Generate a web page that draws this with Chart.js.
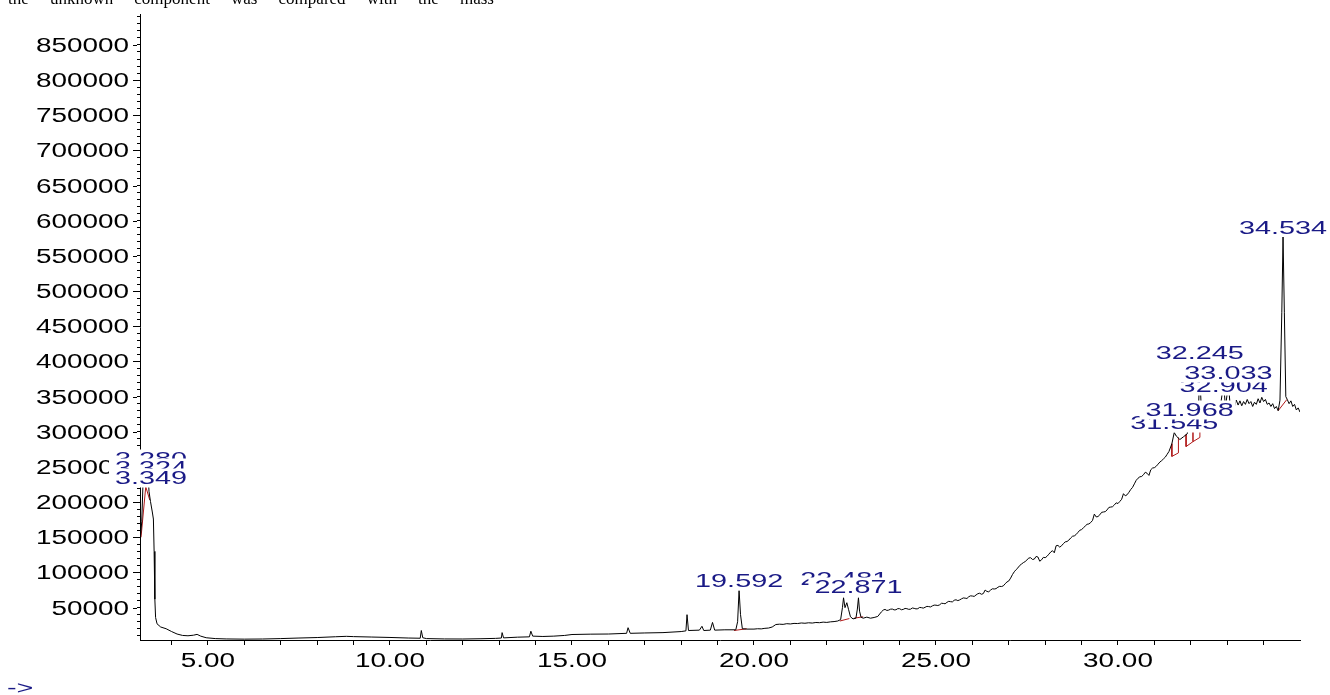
<!DOCTYPE html>
<html><head><meta charset="utf-8">
<script src="https://cdn.jsdelivr.net/npm/chart.js@4.4.1/dist/chart.umd.min.js"></script>
<style>
html,body{margin:0;padding:0;background:#fff;}
#wrap{position:relative;width:1330px;height:695px;overflow:hidden;background:#fff;}
#intro{position:absolute;left:8px;top:-10px;width:486px;font-family:"Liberation Serif","Times New Roman",serif;font-size:17px;line-height:17px;text-align:justify;text-align-last:justify;color:#000;}
canvas{position:absolute;left:0;top:0;}
</style></head>
<body>
<div id="wrap">
<canvas id="c" width="1330" height="695"></canvas>
<div id="intro">the unknown component was compared with the mass</div>
</div>
<script>
// ---- data ----
const retentionTimes = [
 3.14,3.18,3.22,3.26,3.28,3.30,3.324,3.335,3.349,3.38,
 3.42,3.47,3.50,3.52,3.54,3.56,3.60,3.70,3.85,4.00,
 4.15,4.30,4.45,4.60,4.70,4.80,4.95,5.20,5.50,6.00,
 6.50,7.00,7.50,8.00,8.50,8.80,9.00,9.50,10.00,10.50,
 10.83,10.86,10.90,11.00,11.50,12.00,12.50,12.90,13.06,13.08,
 13.12,13.50,13.83,13.87,13.92,14.20,14.50,14.80,15.00,15.50,
 16.00,16.50,16.54,16.60,17.00,17.50,18.00,18.13,18.16,18.20,
 18.50,18.57,18.62,18.80,18.86,18.92,19.20,19.50,19.55,19.59,
 19.63,19.68,19.80,20.00,20.10,20.20,20.30,20.40,20.50,20.60,
 20.70,20.80,20.90,21.00,21.10,21.20,21.30,21.40,21.50,21.60,
 21.70,21.80,21.90,22.00,22.10,22.20,22.30,22.38,22.43,22.46,
 22.50,22.55,22.60,22.65,22.72,22.80,22.84,22.87,22.90,22.94,
 23.00,23.10,23.20,23.30,23.40,
 23.50,23.55,23.60,23.65,23.70,23.75,23.80,23.85,23.90,23.95,
 24.00,24.05,24.10,24.15,24.20,24.25,24.30,24.35,24.40,24.45,
 24.50,24.55,24.60,24.65,24.70,24.75,24.80,24.85,24.90,24.95,
 25.00,25.05,25.10,25.15,25.20,25.25,25.30,25.35,25.40,25.45,
 25.50,25.55,25.60,25.65,25.70,25.75,25.80,25.85,25.90,25.95,
 26.00,26.05,26.10,26.15,26.20,26.25,26.30,26.35,26.40,26.45,
 26.50,26.55,26.60,26.65,26.70,26.75,26.80,26.85,26.90,26.95,
 27.00,27.05,27.10,27.15,27.20,27.25,27.30,27.35,27.40,27.45,
 27.50,27.55,27.60,27.65,27.70,27.75,27.80,27.85,27.90,27.95,
 28.00,28.05,28.10,28.15,28.20,28.25,28.30,28.35,28.40,28.45,
 28.50,28.55,28.60,28.65,28.70,28.75,28.80,28.85,28.90,28.95,
 29.00,29.05,29.10,29.15,29.20,29.25,29.30,29.35,29.40,29.45,
 29.50,29.55,29.60,29.65,29.70,29.75,29.80,29.85,29.90,29.95,
 30.00,30.05,30.10,30.15,30.20,30.25,30.30,30.35,30.40,30.45,
 30.50,30.55,30.60,30.65,30.70,30.75,30.80,30.85,30.90,30.95,
 31.00,31.05,31.10,31.15,31.20,31.25,31.30,31.35,
 31.40,31.48,31.545,31.60,31.70,
 31.80,31.90,31.968,32.05,32.15,32.20,32.245,32.30,32.40,32.50,
 32.60,32.70,32.80,32.904,32.95,33.033,33.08,33.15,33.20,33.25,
 33.30,33.35,33.40,33.45,33.50,33.55,33.60,33.65,33.70,33.75,
 33.80,33.85,33.90,33.95,34.00,34.05,34.10,34.15,34.20,34.25,
 34.30,34.35,34.40,34.45,34.50,34.534,34.57,34.61,34.65,34.70,
 34.75,34.80,34.85,34.90,34.95,35.00
];
const abundance = [
 148000,172000,236000,258000,262000,238000,252000,238000,244000,215000,
 201000,186000,176000,130000,62000,36000,27000,22500,20000,16000,
 12500,10500,10000,10800,12000,9500,7200,6000,5500,5200,
 5400,6000,6800,7500,8600,9200,8800,8200,7600,6800,
 6500,17500,7200,6000,5500,5400,5800,6300,6800,14500,
 7000,8000,8500,16500,9500,9000,9500,10500,11800,12300,
 12500,13500,21500,13500,14000,14500,16000,17000,40000,17500,
 18000,23500,17500,18000,29000,18000,18500,18500,30000,74500,
 40000,20000,19500,19500,20000,19800,20600,21000,22500,26000,
 26500,26200,27200,26800,27600,27400,28200,27800,28500,28100,
 28900,28600,29400,29000,29800,30200,31000,33000,50000,64000,
 50000,57000,47000,37000,34000,35000,48000,64000,45000,36500,
 35000,36500,35000,36000,37500,
 44000,46500,47500,46000,46500,47800,48000,46800,47000,48600,
 48500,47000,47500,48900,48500,47600,47800,49500,49000,48200,
 48500,50300,50000,49300,50500,51800,51500,51000,52500,53600,
 53500,53000,54000,56200,56000,55500,57500,59000,58500,58200,
 60500,61200,60000,61000,62500,63800,63500,63000,65500,66800,
 66500,66000,68000,69800,70500,69000,70000,75000,73000,72500,
 75000,76800,76500,77000,79000,80300,80000,81000,84000,86500,
 88000,92000,97000,101000,104000,106500,110000,112000,114000,115500,
 118000,120500,121000,118500,119000,122800,122000,116000,118000,121500,
 121000,123000,126000,129000,131000,128000,138000,138500,136000,138000,
 141000,143500,144000,146000,149000,151500,152000,154000,157000,160000,
 161000,163500,166000,168500,169000,171000,174000,183000,179000,179500,
 182000,185500,186000,186500,189000,192500,193000,193500,196000,199000,
 198000,201000,204000,212000,209000,210500,214000,218000,221000,226000,
 231000,234000,236000,236500,239000,242500,241000,238000,246000,248500,
 249000,251000,254000,257000,259000,261500,264000,268000,
 272000,283000,299000,294000,289000,
 293000,297000,318000,303000,308000,315000,385000,318000,320000,323000,
 326000,329000,331000,370000,334000,368000,338000,341000,336000,345000,
 338000,344000,337000,343000,339000,346000,340000,343000,336000,342000,
 339000,347000,341000,349000,343000,346000,339000,341000,336000,340000,
 333000,336000,330000,345000,470000,577000,470000,350000,346000,340000,
 344000,336000,339000,331000,334000,328000
];
// integration baselines / drop lines (null = break)
const baselineTimes  = [3.16,3.29,3.40,3.41, 19.45,19.80,19.81, 22.36,22.62,22.63, 22.75,23.00,23.01,
  31.48,31.48,31.66,31.66,31.67, 31.87,31.87,32.06,32.06,32.06,32.25,32.25,32.26, 34.40,34.64];
const baselineValues = [150000,222000,203000,null, 17500,20000,null, 31000,34500,null, 35000,37000,null,
  283000,265000,270000,292000,null, 296000,279000,286000,300000,286000,292000,305000,null, 330000,346000];

const peakTimes  = [3.280,3.324,3.349,19.592,22.481,22.871,31.545,31.968,32.245,32.904,33.033,34.534];
const peakLabels = ['3.280','3.324','3.349','19.592','22.481','22.871','31.545','31.968','32.245','32.904','33.033','34.534'];

const xTickValues = [5,10,15,20,25,30];
const xTickLabels = ['5.00','10.00','15.00','20.00','25.00','30.00'];
const yTickValues = [50000,100000,150000,200000,250000,300000,350000,400000,450000,500000,550000,600000,650000,700000,750000,800000,850000];
const yTickLabels = ['50000','100000','150000','200000','250000','300000','350000','400000','450000','500000','550000','600000','650000','700000','750000','800000','850000'];
const xMinorTicks = [4,5,6,7,8,9,10,11,12,13,14,15,16,17,18,19,20,21,22,23,24,25,26,27,28,29,30,31,32,33,34];
const yMinorTicks = [];
for (let v = 10000; v <= 890000; v += 10000) yMinorTicks.push(v);

// ---- layout / style ----
const FONT = '"Liberation Sans", Arial, Helvetica, sans-serif';
const NAVY = '#1a1a86';
const labelBaselinePx = [465,474,484,587,585,593,429,416,359,392,379,233.5];

function stretchText(ctx, text, x, y, size, sx, align, color) {
  ctx.save();
  ctx.font = size + 'px ' + FONT;
  ctx.fillStyle = color;
  ctx.textBaseline = 'alphabetic';
  ctx.textAlign = align;
  ctx.translate(x, y);
  ctx.scale(sx, 1);
  ctx.fillText(text, 0, 0);
  ctx.restore();
}
function stretchWidth(ctx, text, size, sx) {
  ctx.save();
  ctx.font = size + 'px ' + FONT;
  const w = ctx.measureText(text).width * sx;
  ctx.restore();
  return w;
}

const annotate = {
  id: 'annotate',
  afterDraw(chart) {
    const ctx = chart.ctx;
    const xs = chart.scales.x, ys = chart.scales.y;
    xTickValues.forEach((v, i) => {
      stretchText(ctx, xTickLabels[i], xs.getPixelForValue(v), 667, 19.5, 1.43, 'center', '#000');
    });
    ctx.save();
    ctx.strokeStyle = '#000'; ctx.lineWidth = 1;
    yTickValues.forEach((v, i) => {
      const py = ys.getPixelForValue(v);
      stretchText(ctx, yTickLabels[i], 129, py + 7, 19.5, 1.43, 'right', '#000');
      const yy = Math.round(py) + 0.5;
      ctx.beginPath(); ctx.moveTo(133, yy); ctx.lineTo(137, yy); ctx.stroke();
    });
    ctx.restore();
    peakTimes.forEach((t, i) => {
      const cx = xs.getPixelForValue(t);
      const w = stretchWidth(ctx, peakLabels[i], 17.7, 1.63);
      const left = Math.max(cx - w / 2, 115);
      const base = labelBaselinePx[i];
      ctx.save();
      ctx.fillStyle = '#fff';
      ctx.fillRect(left - 6, base - 15.5, w + 8, 19);
      ctx.restore();
      stretchText(ctx, peakLabels[i], left, base, 17.7, 1.63, 'left', NAVY);
    });
    stretchText(ctx, '->', 7, 694, 17.7, 1.63, 'left', NAVY);
  }
};

new Chart(document.getElementById('c'), {
  type: 'line',
  data: {
    datasets: [
      {
        data: retentionTimes.map((t, i) => ({x: t, y: abundance[i]})),
        borderColor: '#000', borderWidth: 1, pointRadius: 0, tension: 0, fill: false
      },
      {
        data: baselineTimes.map((t, i) => ({x: t, y: baselineValues[i]})),
        borderColor: '#b01818', borderWidth: 1, pointRadius: 0, tension: 0, fill: false, spanGaps: false
      }
    ]
  },
  options: {
    responsive: false, animation: false, devicePixelRatio: 1,
    layout: {padding: {left: 0, top: 14, right: 30, bottom: 0}},
    plugins: {legend: {display: false}, tooltip: {enabled: false}, title: {display: false}},
    scales: {
      x: {
        type: 'linear', position: 'bottom', min: 3.132, max: 35.0,
        grid: {display: true, drawOnChartArea: false, drawTicks: true, tickLength: 5, color: '#000', lineWidth: 1},
        border: {display: true, color: '#000', width: 1},
        ticks: {display: false},
        afterBuildTicks: s => { s.ticks = xMinorTicks.map(v => ({value: v})); },
        afterFit: s => { s.height = 55; }
      },
      y: {
        type: 'linear', position: 'left', min: 4000, max: 894000,
        grid: {display: true, drawOnChartArea: false, drawTicks: true, tickLength: 3, color: '#000', lineWidth: 1},
        border: {display: true, color: '#000', width: 1},
        ticks: {display: false},
        afterBuildTicks: s => { s.ticks = yMinorTicks.map(v => ({value: v})); },
        afterFit: s => { s.width = 140; }
      }
    }
  },
  plugins: [annotate]
});
</script>
</body></html>
